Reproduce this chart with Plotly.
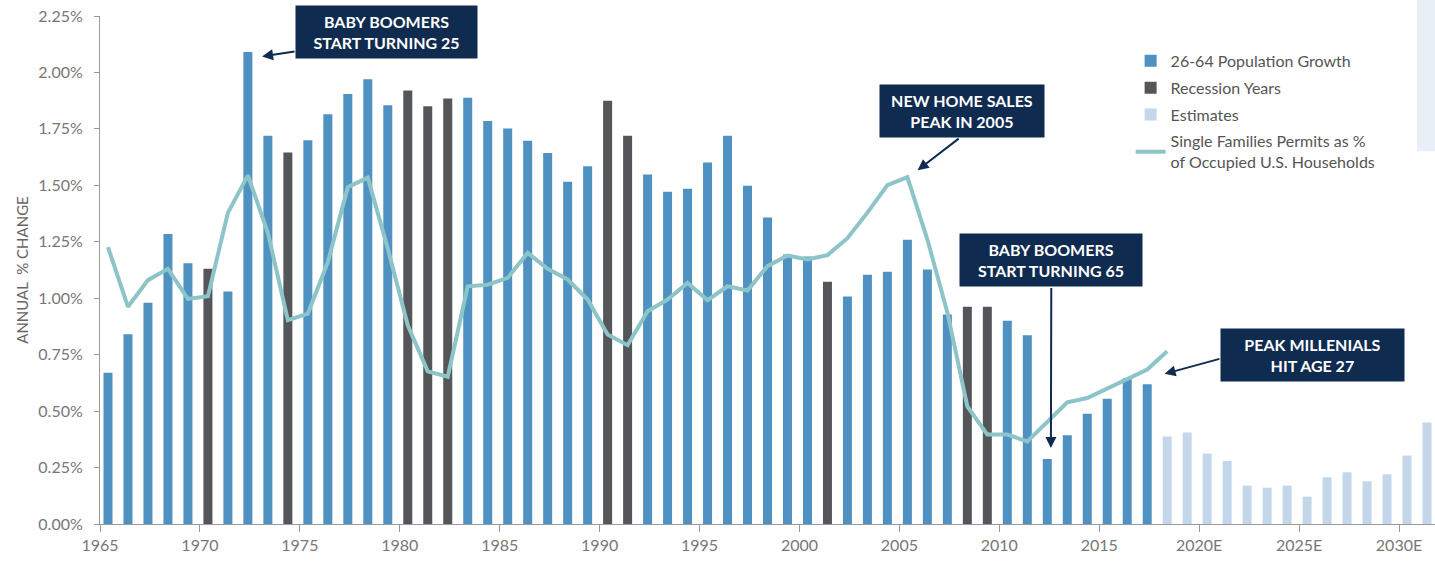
import plotly.graph_objects as go

# 26-64 population growth, annual % change (1965-2017 actual, 2018-2031 estimates)
years = list(range(1965, 2032))
growth = [
    0.67, 0.84, 0.98, 1.285, 1.155, 1.13, 1.03, 2.09, 1.72, 1.645,
    1.70, 1.815, 1.905, 1.97, 1.855, 1.92, 1.85, 1.885, 1.888, 1.785,
    1.752, 1.698, 1.643, 1.516, 1.584, 1.875, 1.72, 1.548, 1.472, 1.485,
    1.601, 1.72, 1.498, 1.358, 1.194, 1.185, 1.073, 1.008, 1.104, 1.117,
    1.259, 1.127, 0.928, 0.962, 0.962, 0.90, 0.836, 0.288, 0.393, 0.488,
    0.555, 0.645, 0.619, 0.388, 0.405, 0.312, 0.279, 0.17, 0.161, 0.17,
    0.121, 0.207, 0.229, 0.189, 0.22, 0.303, 0.45,
]
recession_years = [1970, 1974, 1980, 1981, 1982, 1990, 1991, 2001, 2008, 2009]
first_estimate_year = 2018

# single family permits as % of occupied households
permit_years = list(range(1965, 2019))
permits = [
    1.226, 0.962, 1.08, 1.13, 0.997, 1.009, 1.378, 1.544, 1.29, 0.903,
    0.932, 1.16, 1.492, 1.534, 1.22, 0.88, 0.676, 0.652, 1.053, 1.06,
    1.09, 1.201, 1.13, 1.083, 0.994, 0.839, 0.792, 0.942, 0.994, 1.068,
    0.991, 1.053, 1.034, 1.142, 1.189, 1.172, 1.191, 1.266, 1.379, 1.501,
    1.536, 1.26, 0.937, 0.521, 0.396, 0.396, 0.366, 0.455, 0.539, 0.558,
    0.60, 0.64, 0.684, 0.765,
]

tick_years = list(range(1965, 2031, 5))
tick_text = [str(y) if y < 2020 else f"{y}E" for y in tick_years]
y_ticks = [0, 0.25, 0.5, 0.75, 1.0, 1.25, 1.5, 1.75, 2.0, 2.25]

BLUE = '#4f91c0'
GRAY = '#545659'
LIGHT = '#c4d6ea'
TEAL = '#8cc4c8'
NAVY = '#0f2b50'
FONT = 'Lato, Open Sans, sans-serif'

blue_x, blue_y, gray_x, gray_y, est_x, est_y = [], [], [], [], [], []
for y, v in zip(years, growth):
    if y >= first_estimate_year:
        est_x.append(y); est_y.append(v)
    elif y in recession_years:
        gray_x.append(y); gray_y.append(v)
    else:
        blue_x.append(y); blue_y.append(v)

fig = go.Figure()
fig.add_trace(go.Bar(x=blue_x, y=blue_y, name='26-64 Population Growth', legendgroup='a',
                     marker=dict(color=BLUE, line_width=0), width=0.45))
fig.add_trace(go.Bar(x=gray_x, y=gray_y, name='Recession Years', legendgroup='b',
                     marker=dict(color=GRAY, line_width=0), width=0.45))
fig.add_trace(go.Bar(x=est_x, y=est_y, name='Estimates', legendgroup='c',
                     marker=dict(color=LIGHT, line_width=0), width=0.45))
fig.add_trace(go.Scatter(x=permit_years, y=permits, mode='lines', legendgroup='d',
                         name='Single Families Permits as %<br>of Occupied U.S. Households',
                         line=dict(color=TEAL, width=4)))

# callout boxes
boxes = [
    ("BABY BOOMERS<br>START TURNING 25", 1978.94, 2.178),
    ("NEW HOME SALES<br>PEAK IN 2005", 2007.74, 1.830),
    ("BABY BOOMERS<br>START TURNING 65", 2012.2, 1.169),
    ("PEAK MILLENIALS<br>HIT AGE 27", 2025.29, 0.750),
]
box_w = [175, 158, 176, 177]
for (txt, bx, by), w in zip(boxes, box_w):
    fig.add_annotation(x=bx, y=by, text=f"<b>{txt}</b>", showarrow=False,
                       font=dict(family=FONT, size=16, color='white'),
                       bgcolor=NAVY, width=w, height=46, borderpad=3,
                       xref='x', yref='y')

# arrows (tail -> head)
arrows = [
    (1974.41, 2.094, 1972.71, 2.071),
    (2007.64, 1.712, 2005.51, 1.567),
    (2012.2, 1.052, 2012.18, 0.337),
    (2020.69, 0.733, 2017.87, 0.665),
]
for tx, ty, hx, hy in arrows:
    fig.add_annotation(x=hx, y=hy, ax=tx, ay=ty, axref='x', ayref='y',
                       xref='x', yref='y', text='', showarrow=True,
                       arrowhead=2, arrowsize=1.1, arrowwidth=2, arrowcolor=NAVY)

# pale strip at top right of the original page
fig.add_shape(type='rect', xref='paper', yref='paper', x0=0.9865, x1=1.0,
              y0=0.734, y1=1.032, fillcolor='#e8eff7', line_width=0, layer='below')

fig.update_layout(
    width=1435, height=563,
    plot_bgcolor='white', paper_bgcolor='white',
    margin=dict(l=100, r=0, t=16, b=39),
    barmode='overlay',
    font=dict(family=FONT, size=15, color='#777777'),
    legend=dict(x=0.772, y=0.945, xanchor='left', yanchor='top',
                font=dict(family=FONT, size=16, color='#555555'),
                bgcolor='rgba(0,0,0,0)', tracegroupgap=3),
    showlegend=True,
)
fig.update_xaxes(range=[1964.6, 2031.4], tickmode='array',
                 tickvals=[y - 0.4 for y in tick_years], ticktext=tick_text,
                 ticks='outside', ticklen=7, tickcolor='#999999',
                 showline=True, linecolor='#999999', linewidth=1,
                 showgrid=False, zeroline=False,
                 tickfont=dict(size=16, color='#777777'))
fig.update_yaxes(range=[0, 2.25], tickmode='array',
                 tickvals=y_ticks, ticktext=[f"{v:.2f}%" for v in y_ticks],
                 ticks='outside', ticklen=5, tickcolor='#999999',
                 ticklabelstandoff=8,
                 showline=True, linecolor='#999999', linewidth=1,
                 showgrid=False, zeroline=False,
                 title=dict(text='ANNUAL  % CHANGE', standoff=6,
                            font=dict(size=15, color='#666666')),
                 tickfont=dict(size=16, color='#777777'))

fig.write_html("out.html", config={'displayModeBar': False},
               post_script="document.body.style.margin='0';")
